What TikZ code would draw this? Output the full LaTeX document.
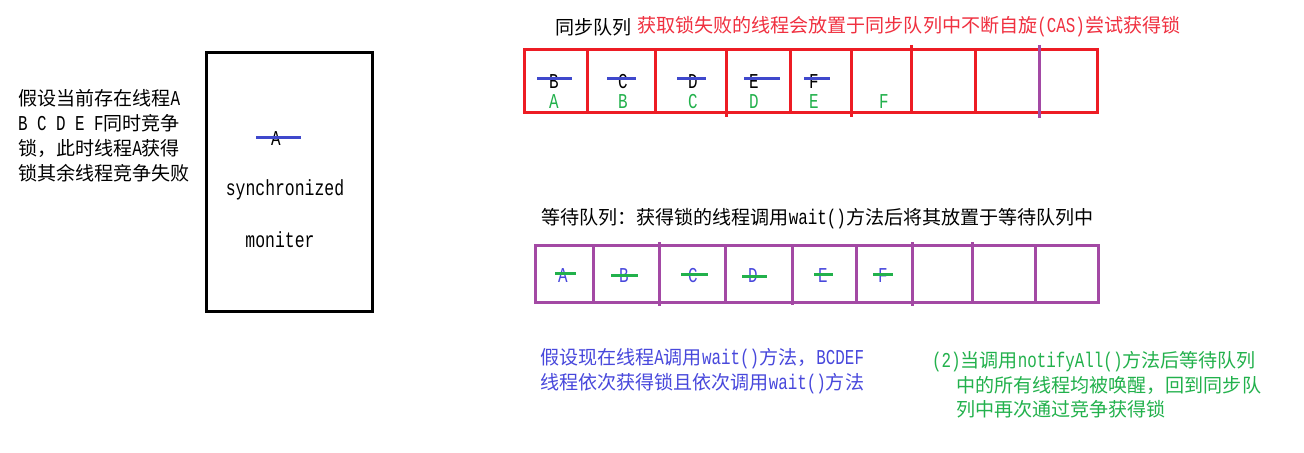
\documentclass[tikz,border=0pt]{standalone}
\usepackage{fontspec}
\setmainfont{Noto Sans CJK SC}
\newfontfamily\mono[FakeStretch=0.75,Scale=1.11]{Liberation Mono}
\definecolor{qred}{RGB}{237,28,36}
\definecolor{qpurple}{RGB}{163,73,164}
\definecolor{qblue}{RGB}{63,72,204}
\definecolor{qgreen}{RGB}{34,177,76}
\definecolor{tred}{RGB}{240,48,64}
\definecolor{tblue}{RGB}{72,72,220}
\begin{document}
\begin{tikzpicture}[x=0.75pt,y=-0.75pt,
  every node/.style={inner sep=0pt,outer sep=0pt,font=\fontsize{14.3}{18}\selectfont},
  redq/.style={draw=qred,line width=2.25pt},
  purq/.style={draw=qpurple,line width=2.25pt},
  monbox/.style={draw=black,line width=2.25pt},
  bstrike/.style={draw=qblue,line width=2.25pt},
  gstrike/.style={draw=qgreen,line width=2.25pt},
  letter/.style={font=\fontsize{14.3}{18}\selectfont\mono},
  para/.style={anchor=west,align=left}]
\fill[white] (0,0) rectangle (1304,453);
\useasboundingbox (0,0) rectangle (1304,453);

% left description
\node[para,font=\fontsize{14.3}{18.75}\selectfont] (intro) at (18,136)
  {假设当前存在线程{\mono A}\\{\mono B C D E F}同时竞争\\锁，此时线程{\mono A}获得\\锁其余线程竞争失败};

% monitor box
\draw[monbox] (206,53) rectangle (372,311);
\coordinate (ml) at (256,138);
\coordinate (mr) at (301,138);
\node[letter] (mA) at (276,139) {A};
\draw[bstrike] (ml) -- (mr);
\node[font=\fontsize{14.8}{18}\selectfont\mono] (sync) at (285,190) {synchronized};
\node[font=\fontsize{14.8}{18}\selectfont\mono] (mon) at (280,240) {moniter};

% titles
\node[anchor=west] (t1) at (555,27) {同步队列};
\node[anchor=west,text=tred] (t2) at (637,27) {获取锁失败的线程会放置于同步队列中不断自旋{\mono(CAS)}尝试获得锁};
\node[anchor=west] (t3) at (541,219) {等待队列：获得锁的线程调用{\mono wait()}方法后将其放置于等待队列中};

% synchronized queue
\draw[redq] (524,50) rectangle (1097,113);
\foreach \x in {587,655,790,975} \draw[redq] (\x,50) -- (\x,113);
\draw[redq] (726,50) -- (726,117);
\draw[redq] (851,50) -- (851,117);
\draw[redq] (911,45) -- (911,113);
\draw[purq] (1039,45) -- (1039,118);

\foreach \n/\x/\a/\b/\l in {qB/554/537/572/B,qC/623/607/636/C,qD/693/677/706/D,qE/754/744/780/E,qF/814/804/830/F}{
  \node[letter] (\n) at (\x,82) {\l};
  \coordinate (\n l) at (\a,79);
  \coordinate (\n r) at (\b,79);
  \draw[bstrike] (\n l) -- (\n r);
}
\foreach \n/\x/\l in {gA/554/A,gB/623/B,gC/693/C,gD/754/D,gE/814/E,gF/884/F}
  \node[letter,text=qgreen] (\n) at (\x,102) {\l};

% wait queue
\draw[purq] (535,245) rectangle (1098,302);
\foreach \x in {593,725,1035} \draw[purq] (\x,245) -- (\x,302);
\draw[purq] (659,242) -- (659,306);
\draw[purq] (792,245) -- (792,305);
\draw[purq] (856,245) -- (856,302);
\draw[purq] (912,242) -- (912,306);
\draw[purq] (972,242) -- (972,302);

\foreach \n/\x/\a/\b/\y/\l in {wA/563/555/576/273/A,wB/624/611/638/275/B,wC/693/681/708/274/C,wD/753/742/767/276/D,wE/823/814/833/274/E,wF/883/873/893/274/F}{
  \node[letter,text=tblue] (\n) at (\x,276) {\l};
  \coordinate (\n l) at (\a,\y);
  \coordinate (\n r) at (\b,\y);
  \draw[gstrike] (\n l) -- (\n r);
}

% bottom notes
\node[para,text=tblue,font=\fontsize{14.3}{18.75}\selectfont] (n1) at (540,371)
  {假设现在线程{\mono A}调用{\mono wait()}方法，{\mono BCDEF}\\线程依次获得锁且依次调用{\mono wait()}方法};
\node[para,text=qgreen,font=\fontsize{14.3}{18.4}\selectfont] (n2) at (932,385)
  {{\mono(2)}当调用{\mono notifyAll()}方法后等待队列\\\hspace*{18pt}中的所有线程均被唤醒，回到同步队\\\hspace*{18pt}列中再次通过竞争获得锁};
\end{tikzpicture}
\end{document}
